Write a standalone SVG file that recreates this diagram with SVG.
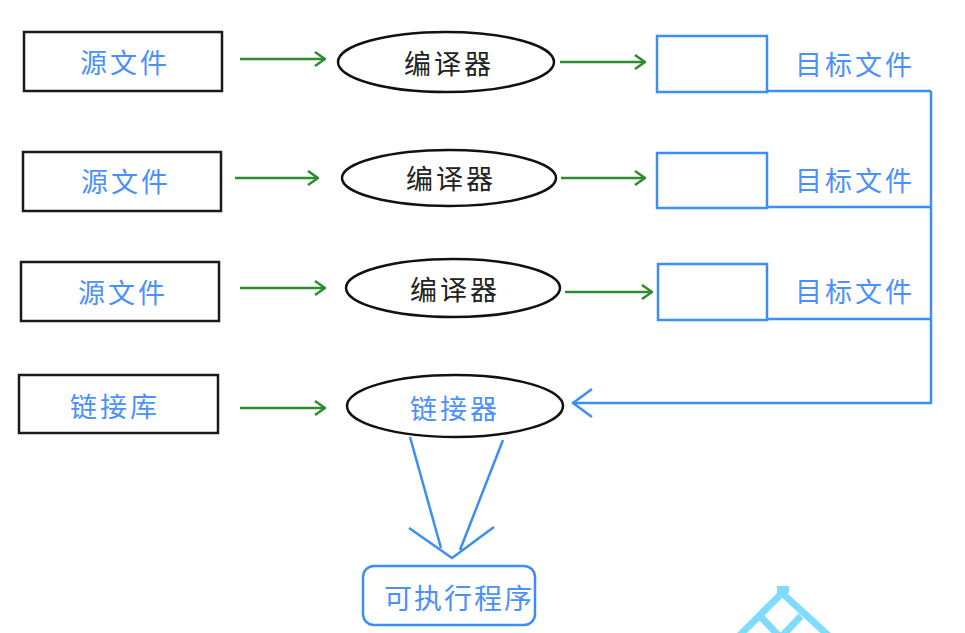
<svg xmlns="http://www.w3.org/2000/svg" width="965" height="633" viewBox="0 0 965 633">
<defs>
<style>
.box{fill:#fff;stroke:#1a1a1a;stroke-width:2.5}
.ell{fill:#fff;stroke:#111;stroke-width:2.5}
.obj{fill:#fff;stroke:#3c8ef5;stroke-width:2.5}
.g{fill:none;stroke:#2e8b2e;stroke-width:2.5}
.b{fill:none;stroke:#3c8ef5;stroke-width:2.5;stroke-linejoin:round}
.t{font-family:"Noto Sans CJK SC","Noto Sans",sans-serif;font-size:27px;letter-spacing:3px;text-anchor:middle;dominant-baseline:central}
.blue{fill:#4a90ff}
.blk{fill:#222}
</style>
<marker id="ga" viewBox="0 0 12 16" refX="11" refY="8" markerWidth="12" markerHeight="16" markerUnits="userSpaceOnUse" orient="auto">
<path d="M1,1 L11,8 L1,15" fill="none" stroke="#2e8b2e" stroke-width="2.5"/>
</marker>
</defs>
<rect width="965" height="633" fill="#fff"/>

<g id="src1"><rect class="box" x="24" y="32" width="198" height="59"/><text class="t blue" x="125" y="61">源文件</text></g>
<g id="src2"><rect class="box" x="23" y="152" width="198" height="59"/><text class="t blue" x="126" y="180">源文件</text></g>
<g id="src3"><rect class="box" x="21" y="262" width="198" height="59"/><text class="t blue" x="123" y="291">源文件</text></g>
<g id="lib"><rect class="box" x="19" y="375" width="199" height="58"/><text class="t blue" x="115" y="405">链接库</text></g>

<g id="cc1"><ellipse class="ell" cx="446" cy="62" rx="108" ry="30"/><text class="t blk" x="449" y="62">编译器</text></g>
<g id="cc2"><ellipse class="ell" cx="449" cy="178" rx="107" ry="28"/><text class="t blk" x="451" y="177">编译器</text></g>
<g id="cc3"><ellipse class="ell" cx="453" cy="288" rx="107" ry="29"/><text class="t blk" x="455" y="288">编译器</text></g>
<g id="linker"><ellipse class="ell" cx="455" cy="406" rx="108" ry="31"/><text class="t blue" x="455" y="407">链接器</text></g>

<g id="obj1"><rect class="obj" x="657" y="36" width="110" height="56"/><text class="t blue" x="855" y="63">目标文件</text></g>
<g id="obj2"><rect class="obj" x="657" y="153" width="110" height="55"/><text class="t blue" x="855" y="179">目标文件</text></g>
<g id="obj3"><rect class="obj" x="658" y="264" width="109" height="56"/><text class="t blue" x="855" y="290">目标文件</text></g>

<g id="exe"><rect class="obj" x="363" y="566" width="172" height="59" rx="11"/><text class="t blue" x="459" y="597" style="font-size:28px;letter-spacing:2px">可执行程序</text></g>

<g id="connectors">
<path class="g" d="M240,59 H325" marker-end="url(#ga)"/>
<path class="g" d="M560,62 H645" marker-end="url(#ga)"/>
<path class="g" d="M235,178 H318" marker-end="url(#ga)"/>
<path class="g" d="M561,178 H645" marker-end="url(#ga)"/>
<path class="g" d="M240,288 H325" marker-end="url(#ga)"/>
<path class="g" d="M565,292 H652" marker-end="url(#ga)"/>
<path class="g" d="M240,408 H325" marker-end="url(#ga)"/>
<path class="b" d="M767,91 H931 M767,207 H931 M767,319 H931 M931,91 V403 H572"/>
<path class="b" d="M592,389 L573,403 L592,417"/>
<path class="b" d="M410,437 L441,548 M503,440 L460,550 M409,528 L452,558 L494,527"/>
</g>

<g id="watermark" fill="none" stroke="#80dcff" stroke-width="7">
<path d="M782,593 L738,637 M782,593 L830,637 M760,616 L779,636 M801,616 L782,636"/>
<rect x="777" y="586" width="12" height="7" fill="#80dcff" stroke="none"/>
</g>
</svg>
